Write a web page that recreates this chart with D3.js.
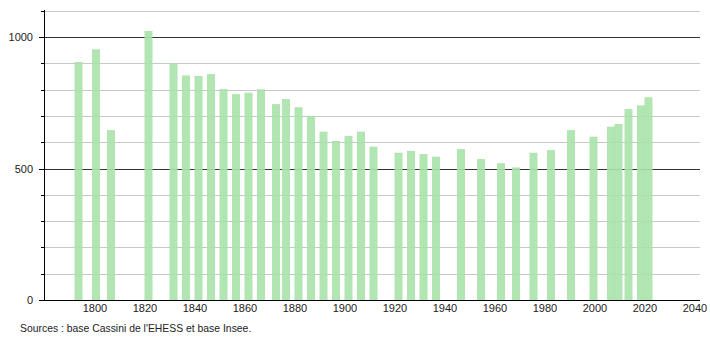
<!DOCTYPE html>
<html>
<head>
<meta charset="utf-8">
<script src="https://cdn.jsdelivr.net/npm/d3@7"></script>
<style>
  body { margin: 0; background: #fff; }
  text { font-family: "Liberation Sans", Arial, sans-serif; }
</style>
</head>
<body>
<script>
// census years and population
var years = [1793, 1800, 1806, 1821, 1831, 1836, 1841, 1846, 1851, 1856,
  1861, 1866, 1872, 1876, 1881, 1886, 1891, 1896, 1901, 1906,
  1911, 1921, 1926, 1931, 1936, 1946, 1954, 1962, 1968, 1975,
  1982, 1990, 1999, 2006, 2009, 2013, 2018, 2021];
var population = [905, 953, 646, 1023, 900, 854, 852, 859, 802, 783,
  788, 801, 745, 764, 733, 700, 640, 605, 624, 640,
  583, 560, 567, 555, 545, 574, 536, 520, 504, 560,
  570, 646, 621, 659, 669, 726, 740, 771];
var xTicks = [1800, 1820, 1840, 1860, 1880, 1900, 1920, 1940, 1960, 1980, 2000, 2020, 2040];
var yLabels = [0, 500, 1000];
var yGrid = [100, 200, 300, 400, 500, 600, 700, 800, 900, 1000, 1100];

var width = 710, height = 340;
var svg = d3.select("body").append("svg")
    .attr("width", width)
    .attr("height", height);

var x = d3.scaleLinear().domain([1779.6, 2042]).range([44, 700]);
var y = d3.scaleLinear().domain([0, 1100]).range([300, 10.7]);

// grid
svg.selectAll(".grid")
    .data(yGrid)
    .enter().append("line")
    .attr("x1", 44).attr("x2", 700)
    .attr("y1", function(d) { return Math.round(y(d)) + 0.5; })
    .attr("y2", function(d) { return Math.round(y(d)) + 0.5; })
    .attr("stroke", function(d) { return d % 500 == 0 ? "#333" : "#c8c8c8"; })
    .attr("stroke-width", 1);

// bars
var barW = 8;
svg.selectAll(".bar")
    .data(years)
    .enter().append("rect")
    .attr("x", function(d) { return x(d) + 1 - barW / 2; })
    .attr("width", barW)
    .attr("y", function(d, i) { return y(population[i]); })
    .attr("height", function(d, i) { return y(0) - y(population[i]); })
    .attr("fill", "rgb(168,226,168)")
    .attr("fill-opacity", 0.9);

// y axis
svg.append("line")
    .attr("x1", 44.5).attr("x2", 44.5)
    .attr("y1", 10).attr("y2", 300)
    .attr("stroke", "#000");
svg.selectAll(".ytick")
    .data(d3.range(0, 1200, 100))
    .enter().append("line")
    .attr("x1", function(d) { return d % 500 == 0 ? 39 : 41; })
    .attr("x2", 44)
    .attr("y1", function(d) { return Math.round(y(d)) + 0.5; })
    .attr("y2", function(d) { return Math.round(y(d)) + 0.5; })
    .attr("stroke", "#000");
svg.selectAll(".ylab")
    .data(yLabels)
    .enter().append("text")
    .attr("x", 33)
    .attr("y", function(d) { return y(d) + 4; })
    .attr("text-anchor", "end")
    .attr("font-size", "11px")
    .attr("fill", "#222")
    .text(function(d) { return d; });

// x axis
svg.append("line")
    .attr("x1", 40).attr("x2", 700)
    .attr("y1", 300.5).attr("y2", 300.5)
    .attr("stroke", "#000");
svg.selectAll(".xlab")
    .data(xTicks)
    .enter().append("text")
    .attr("x", function(d) { return x(d); })
    .attr("y", 312)
    .attr("text-anchor", "middle")
    .attr("font-size", "11px")
    .attr("fill", "#222")
    .text(function(d) { return d; });

svg.append("text")
    .attr("x", 20)
    .attr("y", 332)
    .attr("font-size", "10.4px")
    .attr("fill", "#222")
    .text("Sources : base Cassini de l'EHESS et base Insee.");
</script>
</body>
</html>
